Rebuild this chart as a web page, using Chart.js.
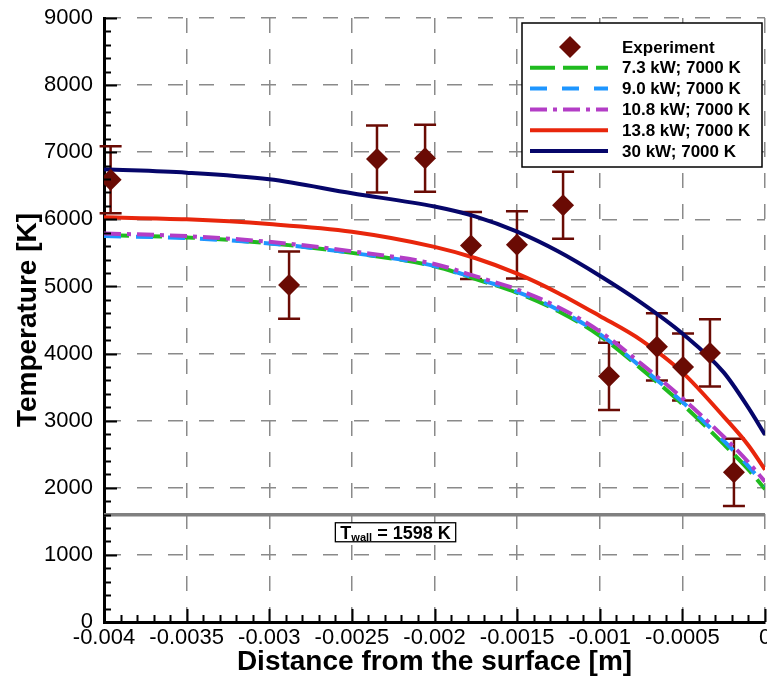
<!DOCTYPE html>
<html>
<head>
<meta charset="utf-8">
<title>Temperature profile</title>
<script src="https://cdn.jsdelivr.net/npm/chart.js@4.4.1/dist/chart.umd.min.js"></script>
<style>
  html, body { margin: 0; padding: 0; background: #fff; }
  #chart { display: block; }
</style>
</head>
<body>
<canvas id="chart" width="767" height="688"></canvas>
<script>
// ====
// Data
// ====

//  Experiment (diamonds with +/- error bars)
//  -----------------------------------------
const expX = [-0.00396, -0.00288, -0.002348, -0.002057, -0.001779, -0.001501,
              -0.001222, -0.000944, -0.000654, -0.000496, -0.000333, -0.000188];
const expT = [6590, 5020, 6900, 6910, 5610, 5620, 6210, 3660, 4100, 3800, 4010, 2230];
const expErr = [500, 500, 500, 500, 500, 500, 500, 500, 500, 500, 500, 500];

//  Model curves
//  ------------
const curveX = [-0.004, -0.0035, -0.003, -0.0025, -0.002, -0.00175, -0.0015, -0.00125,
                -0.001, -0.00075, -0.0005, -0.00025, -0.0001, 0];
const t73  = [5765, 5730, 5645, 5500, 5300, 5110, 4905, 4630, 4265, 3775, 3245, 2650, 2270, 1980];
const t90  = [5750, 5720, 5640, 5500, 5305, 5120, 4920, 4650, 4290, 3800, 3280, 2700, 2320, 2030];
const t108 = [5790, 5750, 5665, 5525, 5335, 5150, 4955, 4690, 4330, 3850, 3335, 2760, 2380, 2090];
const t138 = [6030, 6000, 5930, 5815, 5590, 5420, 5190, 4900, 4560, 4200, 3720, 3060, 2630, 2270];
const t30  = [6745, 6695, 6596, 6388, 6190, 6040, 5816, 5520, 5160, 4760, 4300, 3720, 3190, 2790];

//  Wall temperature
const tWall = 1598;
const tWallLabelX = -0.0026;

//  Axes
//  ----
const xTickValues = [-0.004, -0.0035, -0.003, -0.0025, -0.002, -0.0015, -0.001, -0.0005, 0];
const xTickLabels = ['-0.004', '-0.0035', '-0.003', '-0.0025', '-0.002', '-0.0015', '-0.001', '-0.0005', '0'];
const yTickValues = [0, 1000, 2000, 3000, 4000, 5000, 6000, 7000, 8000, 9000];
const yTickLabels = ['0', '1000', '2000', '3000', '4000', '5000', '6000', '7000', '8000', '9000'];


// ======
// Styles
// ======
const FONT = "'Liberation Sans', Arial, Helvetica, sans-serif";
const maroon = '#6a0b04';
const gridColor = '#8a8a8a';

Chart.defaults.font.family = FONT;
Chart.defaults.color = '#000';

const toPoints = (xs, ys) => xs.map((x, i) => ({x: x, y: ys[i]}));

const curve = (label, ys, color, dash, order) => ({
  label: label,
  data: toPoints(curveX, ys),
  showLine: true,
  borderColor: color,
  backgroundColor: color,
  borderWidth: 4,
  borderDash: dash,
  pointRadius: 0,
  cubicInterpolationMode: 'monotone',
  order: order,
});

const datasets = [
  {
    label: 'Experiment',
    data: toPoints(expX, expT),
    showLine: false,
    pointStyle: 'rectRot',
    pointRadius: 11,
    pointBackgroundColor: maroon,
    pointBorderWidth: 0,
    backgroundColor: maroon,
    order: 0,
  },
  curve('7.3 kW; 7000 K', t73, '#1fbb1f', [25, 8], 5),
  curve('9.0 kW; 7000 K', t90, '#1e96ff', [17, 15], 4),
  curve('10.8 kW; 7000 K', t108, '#b33dc6', [17, 6, 4, 6], 3),
  curve('13.8 kW; 7000 K', t138, '#e8260c', [], 2),
  curve('30 kW; 7000 K', t30, '#06066a', [], 1),
  {
    label: 'wall',
    data: [{x: xTickValues[0], y: tWall}, {x: xTickValues[xTickValues.length - 1], y: tWall}],
    showLine: true,
    borderColor: '#808080',
    borderWidth: 3.5,
    pointRadius: 0,
    order: 6,
  },
];


// =======
// Plugins
// =======

//  White page behind the chart
const whiteBg = {
  id: 'whiteBg',
  beforeDraw(chart) {
    const ctx = chart.ctx;
    ctx.save();
    ctx.fillStyle = '#fff';
    ctx.fillRect(0, 0, chart.width, chart.height);
    ctx.restore();
  },
};

//  Error bars under the diamonds
const errorBars = {
  id: 'errorBars',
  beforeDatasetsDraw(chart) {
    const {ctx, scales: {x, y}} = chart;
    ctx.save();
    ctx.strokeStyle = maroon;
    ctx.lineWidth = 2.5;
    for (let i = 0; i < expX.length; i++) {
      const px = x.getPixelForValue(expX[i]);
      const top = y.getPixelForValue(expT[i] + expErr[i]);
      const bot = y.getPixelForValue(expT[i] - expErr[i]);
      ctx.beginPath();
      ctx.moveTo(px, top);
      ctx.lineTo(px, bot);
      ctx.moveTo(px - 11, top);
      ctx.lineTo(px + 11, top);
      ctx.moveTo(px - 11, bot);
      ctx.lineTo(px + 11, bot);
      ctx.stroke();
    }
    ctx.restore();
  },
};

//  Ticks pointing into the plot (major + 4 minor)
const innerTicks = {
  id: 'innerTicks',
  afterDraw(chart) {
    const {ctx, chartArea: area, scales: {x, y}} = chart;
    ctx.save();
    ctx.strokeStyle = '#000';
    ctx.lineWidth = 2;
    ctx.beginPath();
    for (let i = 0; i < xTickValues.length; i++) {
      for (let k = 0; k < 5; k++) {
        if (i === xTickValues.length - 1 && k > 0) break;
        const step = (xTickValues[1] - xTickValues[0]) / 5;
        const px = Math.round(x.getPixelForValue(xTickValues[i] + k * step)) + 0.5;
        const len = k === 0 ? 13 : 7;
        ctx.moveTo(px, area.bottom);
        ctx.lineTo(px, area.bottom - len);
      }
    }
    for (let i = 0; i < yTickValues.length; i++) {
      for (let k = 0; k < 5; k++) {
        if (i === yTickValues.length - 1 && k > 0) break;
        const step = (yTickValues[1] - yTickValues[0]) / 5;
        const py = Math.round(y.getPixelForValue(yTickValues[i] + k * step)) + 0.5;
        const len = k === 0 ? 13 : 7;
        ctx.moveTo(area.left, py);
        ctx.lineTo(area.left + len, py);
      }
    }
    ctx.stroke();
    ctx.restore();
  },
};

//  "T_wall = 1598 K" box
const wallLabel = {
  id: 'wallLabel',
  afterDatasetsDraw(chart) {
    const {ctx, scales: {x, y}} = chart;
    const left = x.getPixelForValue(tWallLabelX);
    const top = y.getPixelForValue(tWall) + 8;
    ctx.save();
    ctx.textBaseline = 'alphabetic';
    ctx.font = 'bold 18px ' + FONT;
    const wT = ctx.measureText('T').width;
    const rest = ' = ' + tWall + ' K';
    const wRest = ctx.measureText(rest).width;
    ctx.font = 'bold 11px ' + FONT;
    const wSub = ctx.measureText('wall').width;
    const w = wT + wSub + wRest + 10;
    const h = 19;
    ctx.fillStyle = '#fff';
    ctx.fillRect(left, top, w, h);
    ctx.strokeStyle = '#000';
    ctx.lineWidth = 1.3;
    ctx.strokeRect(left, top, w, h);
    ctx.fillStyle = '#000';
    const base = top + 16;
    let cx = left + 5;
    ctx.font = 'bold 18px ' + FONT;
    ctx.fillText('T', cx, base);
    cx += wT;
    ctx.font = 'bold 11px ' + FONT;
    ctx.fillText('wall', cx, base + 2);
    cx += wSub;
    ctx.font = 'bold 18px ' + FONT;
    ctx.fillText(rest, cx, base);
    ctx.restore();
  },
};

//  Legend box in the top right corner
const boxLegend = {
  id: 'boxLegend',
  afterDraw(chart) {
    const {ctx, chartArea: area} = chart;
    const items = chart.data.datasets.slice(0, 6);
    const bx = area.right - 243;
    const by = area.top + 5;
    const bw = 240;
    const bh = 144;
    ctx.save();
    ctx.fillStyle = '#fff';
    ctx.fillRect(bx, by, bw, bh);
    ctx.strokeStyle = '#000';
    ctx.lineWidth = 1.5;
    ctx.strokeRect(bx, by, bw, bh);

    ctx.font = 'bold 17px ' + FONT;
    ctx.textBaseline = 'middle';
    ctx.textAlign = 'left';
    items.forEach((ds, i) => {
      const ry = by + 24 + i * 20.8;
      if (i === 0) {
        ctx.fillStyle = maroon;
        ctx.beginPath();
        ctx.moveTo(bx + 48 - 11, ry);
        ctx.lineTo(bx + 48, ry - 11);
        ctx.lineTo(bx + 48 + 11, ry);
        ctx.lineTo(bx + 48, ry + 11);
        ctx.closePath();
        ctx.fill();
      } else {
        ctx.strokeStyle = ds.borderColor;
        ctx.lineWidth = 4;
        ctx.setLineDash(ds.borderDash);
        ctx.beginPath();
        ctx.moveTo(bx + 8, ry);
        ctx.lineTo(bx + 86, ry);
        ctx.stroke();
        ctx.setLineDash([]);
      }
      ctx.fillStyle = '#000';
      ctx.fillText(ds.label, bx + 100, ry + 1);
    });
    ctx.restore();
  },
};


// =====
// Chart
// =====
const axisFont = {size: 22};
const titleFont = {size: 28, weight: 'bold'};

const tempChart = new Chart(document.getElementById('chart'), {
  type: 'scatter',
  data: {datasets: datasets},
  options: {
    responsive: false,
    animation: false,
    layout: {autoPadding: false, padding: {top: 18, right: 2, left: 0, bottom: 0}},
    plugins: {
      legend: {display: false},
      tooltip: {enabled: false},
    },
    scales: {
      x: {
        type: 'linear',
        min: xTickValues[0],
        max: xTickValues[xTickValues.length - 1],
        afterBuildTicks: (s) => { s.ticks = xTickValues.map(v => ({value: v})); },
        afterFit: (s) => { s.height = 66; s.paddingLeft = 0; s.paddingRight = 0; },
        grid: {color: gridColor, lineWidth: 1.5, drawTicks: false},
        border: {display: true, color: '#000', width: 3, dash: [15, 16]},
        ticks: {
          padding: 3, maxRotation: 0, autoSkip: false, font: axisFont, color: '#000',
          callback: (v, i) => xTickLabels[i],
        },
        title: {
          display: true, text: 'Distance from the surface [m]', font: titleFont,
          color: '#000', padding: {top: 0, bottom: 9},
        },
      },
      y: {
        type: 'linear',
        min: yTickValues[0],
        max: yTickValues[yTickValues.length - 1],
        afterBuildTicks: (s) => { s.ticks = yTickValues.map(v => ({value: v})); },
        afterFit: (s) => { s.width = 104; s.paddingTop = 0; s.paddingBottom = 0; },
        grid: {color: gridColor, lineWidth: 1.5, drawTicks: false},
        border: {display: true, color: '#000', width: 3, dash: [15, 16]},
        ticks: {
          padding: 11, font: axisFont, color: '#000',
          callback: (v, i) => yTickLabels[i],
        },
        title: {
          display: true, text: 'Temperature [K]', font: titleFont,
          color: '#000', padding: {top: 11, bottom: 0},
        },
      },
    },
  },
  plugins: [whiteBg, errorBars, wallLabel, innerTicks, boxLegend],
});
</script>
</body>
</html>
